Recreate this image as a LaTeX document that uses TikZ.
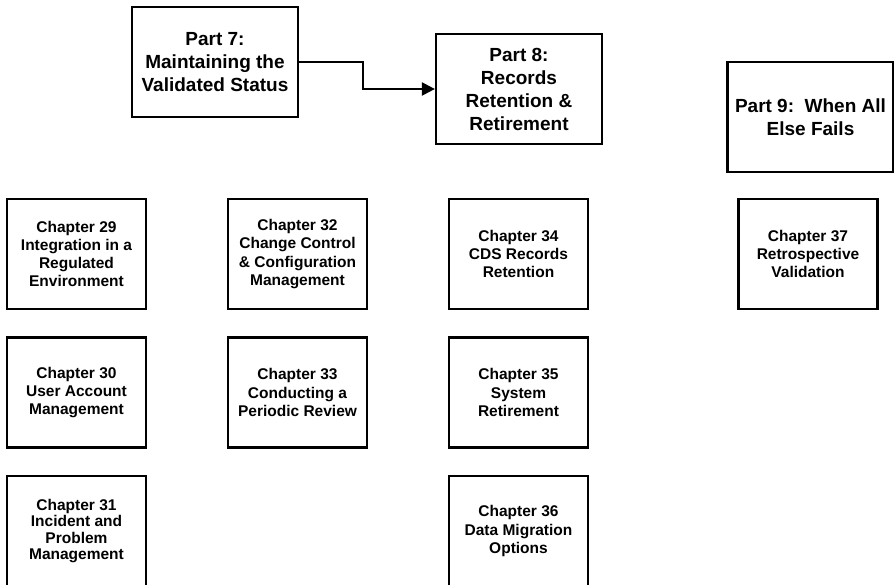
\documentclass[tikz,border=0pt]{standalone}
\usepackage{fontspec}
\setmainfont{Liberation Sans}
\usetikzlibrary{arrows.meta}

\begin{document}
\begin{tikzpicture}[x=1pt,y=-1pt,
    partbox/.style={draw,line width=2.2pt,minimum width=166pt,minimum height=110pt,
      inner sep=0pt,align=center,font=\fontsize{19}{23}\selectfont\bfseries},
    chapbox/.style={draw,line width=2.2pt,minimum width=139pt,minimum height=110pt,
      inner sep=0pt,align=center,font=\fontsize{15.5}{18.3}\selectfont\bfseries},
    flow/.style={line width=2.2pt,-{Triangle[length=13pt,width=13pt]}}]
  \clip (0,0) rectangle (894,585);
  % parts
  \node[partbox] (p7) at (215,62) {Part 7:\\Maintaining the\\Validated Status};
  \node[partbox] (p8) at (519,89) {Part 8:\\Records\\Retention \&\\Retirement};
  \node[partbox] (p9) at (810.5,117) {Part 9:\ \ When All\\Else Fails};
  % chapters
  \node[chapbox] (c29) at (76.5,254) {Chapter 29\\Integration in a\\Regulated\\Environment};
  \node[chapbox] (c30) at (76.5,392.5) {Chapter 30\\User Account\\Management};
  \node[chapbox,font=\fontsize{15.5}{16.2}\selectfont\bfseries] (c31) at (76.5,531)
    {Chapter 31\\Incident and\\Problem\\Management};
  \node[chapbox] (c32) at (297.5,254) {Chapter 32\\Change Control\\\& Configuration\\Management};
  \node[chapbox] (c33) at (297.5,392.5) {Chapter 33\\Conducting a\\Periodic Review};
  \node[chapbox] (c34) at (518.5,254) {Chapter 34\\CDS Records\\Retention};
  \node[chapbox] (c35) at (518.5,392.5) {Chapter 35\\System\\Retirement};
  \node[chapbox] (c36) at (518.5,531) {Chapter 36\\Data Migration\\Options};
  \node[chapbox] (c37) at (808,254) {Chapter 37\\Retrospective\\Validation};
  % link
  \draw[flow] (p7.east) -- ++(64,0) |- (p8.west);
\end{tikzpicture}
\end{document}
